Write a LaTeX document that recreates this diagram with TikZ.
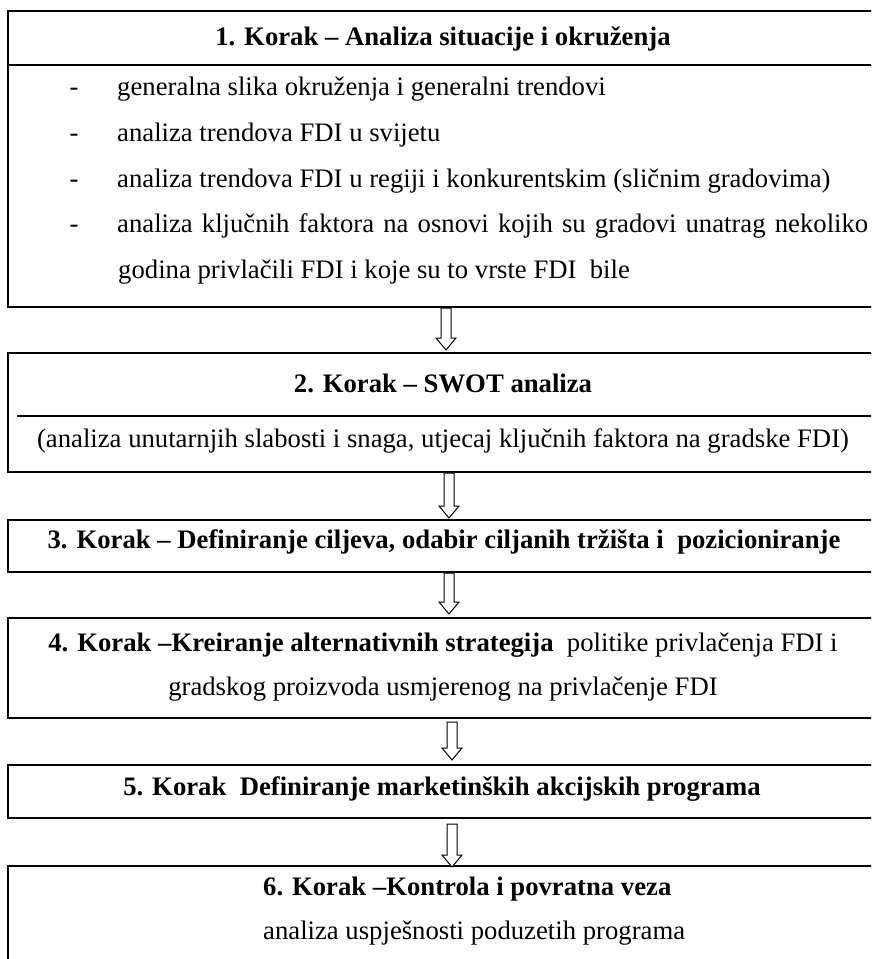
\documentclass[tikz,border=0pt]{standalone}
\usepackage{fontspec}
\setmainfont[Ligatures={NoCommon}]{Liberation Serif}
\usetikzlibrary{calc}
\tikzset{
  box/.style={draw, line width=2pt, rectangle, inner sep=0pt, anchor=north west},
  divider/.style={line width=2pt},
  txt/.style={inner sep=0pt, font=\fontsize{26.7}{32}\selectfont},
  harrow/.style={draw, line width=1pt, fill=white, line join=miter},
}
\newcommand\hollowarrow[2]{%
  \draw[harrow] let \p1=(#1), \p2=(#2) in
    (\x1-5pt,\y1) -- (\x1-5pt,\y2+12pt) -- (\x1-10pt,\y2+12pt) -- (\x1,\y2)
    -- (\x1+10pt,\y2+12pt) -- (\x1+5pt,\y2+12pt) -- (\x1+5pt,\y1) -- cycle;}
\begin{document}
\begin{tikzpicture}[x=1pt,y=-1pt]
\useasboundingbox (0,0) rectangle (871,959);
\clip (0,0) rectangle (871,959);
\fill[white] (0,0) rectangle (871,959);
% boxes
\node[box, minimum width=873pt, minimum height=296pt] (b1) at (7,10) {};
\draw[divider] (7,65) -- (880,65);
\node[box, minimum width=873pt, minimum height=119pt] (b2) at (7,352) {};
\draw[divider] (17,416) -- (880,416);
\node[box, minimum width=873pt, minimum height=52pt] (b3) at (7,519) {};
\node[box, minimum width=873pt, minimum height=100pt] (b4) at (7,617) {};
\node[box, minimum width=873pt, minimum height=53pt] (b5) at (7,764) {};
\node[box, minimum width=873pt, minimum height=150pt] (b6) at (7,865) {};
% box 1 texts
\node[txt, anchor=base] (t1) at (443,45) {\textbf{1. Korak – Analiza situacije i okruženja}};
\node[txt, anchor=base] (d1) at (74,95) {-};
\node[txt, anchor=base west] (l1) at (117,95) {generalna slika okruženja i generalni trendovi};
\node[txt, anchor=base] (d2) at (74,141) {-};
\node[txt, anchor=base west] (l2) at (117,141) {analiza trendova FDI u svijetu};
\node[txt, anchor=base] (d3) at (74,187) {-};
\node[txt, anchor=base west] (l3) at (117,187) {analiza trendova FDI u regiji i konkurentskim (sličnim gradovima)};
\node[txt, anchor=base] (d4) at (74,232) {-};
\node[txt, anchor=base west] (l4) at (117,232) {\makebox[751pt][s]{analiza ključnih faktora na osnovi kojih su gradovi unatrag nekoliko}};
\node[txt, anchor=base west] (l5) at (118,278) {godina privlačili FDI i koje su to vrste FDI\ \ bile};
% box 2
\node[txt, anchor=base] (t2) at (443,392) {\textbf{2. Korak – SWOT analiza}};
\node[txt, anchor=base] (s2) at (443,447) {(analiza unutarnjih slabosti i snaga, utjecaj ključnih faktora na gradske FDI)};
% box 3
\node[txt, anchor=base] (t3) at (444,548) {\textbf{3. Korak – Definiranje ciljeva, odabir ciljanih tržišta i\ \ pozicioniranje}};
% box 4
\node[txt, anchor=base] (t4) at (443,651) {\textbf{4. Korak –Kreiranje alternativnih strategija}\ \ politike privlačenja FDI i};
\node[txt, anchor=base] (s4) at (443,695) {gradskog proizvoda usmjerenog na privlačenje FDI};
% box 5
\node[txt, anchor=base] (t5) at (442,795) {\textbf{5. Korak\ \ Definiranje marketinških akcijskih programa}};
% box 6
\node[txt, anchor=base west] (t6) at (263,895) {\textbf{6. Korak –Kontrola i povratna veza}};
\node[txt, anchor=base west] (s6) at (263,939) {analiza uspješnosti poduzetih programa};
% arrows
\coordinate (a1s) at (446,308); \coordinate (a1e) at (446,350);
\coordinate (a2s) at (449,473); \coordinate (a2e) at (449,518);
\coordinate (a3s) at (449,573); \coordinate (a3e) at (449,614);
\coordinate (a4s) at (452,722); \coordinate (a4e) at (452,760);
\coordinate (a5s) at (452,824); \coordinate (a5e) at (452,867);
\hollowarrow{a1s}{a1e}
\hollowarrow{a2s}{a2e}
\hollowarrow{a3s}{a3e}
\hollowarrow{a4s}{a4e}
\hollowarrow{a5s}{a5e}
\end{tikzpicture}
\end{document}
